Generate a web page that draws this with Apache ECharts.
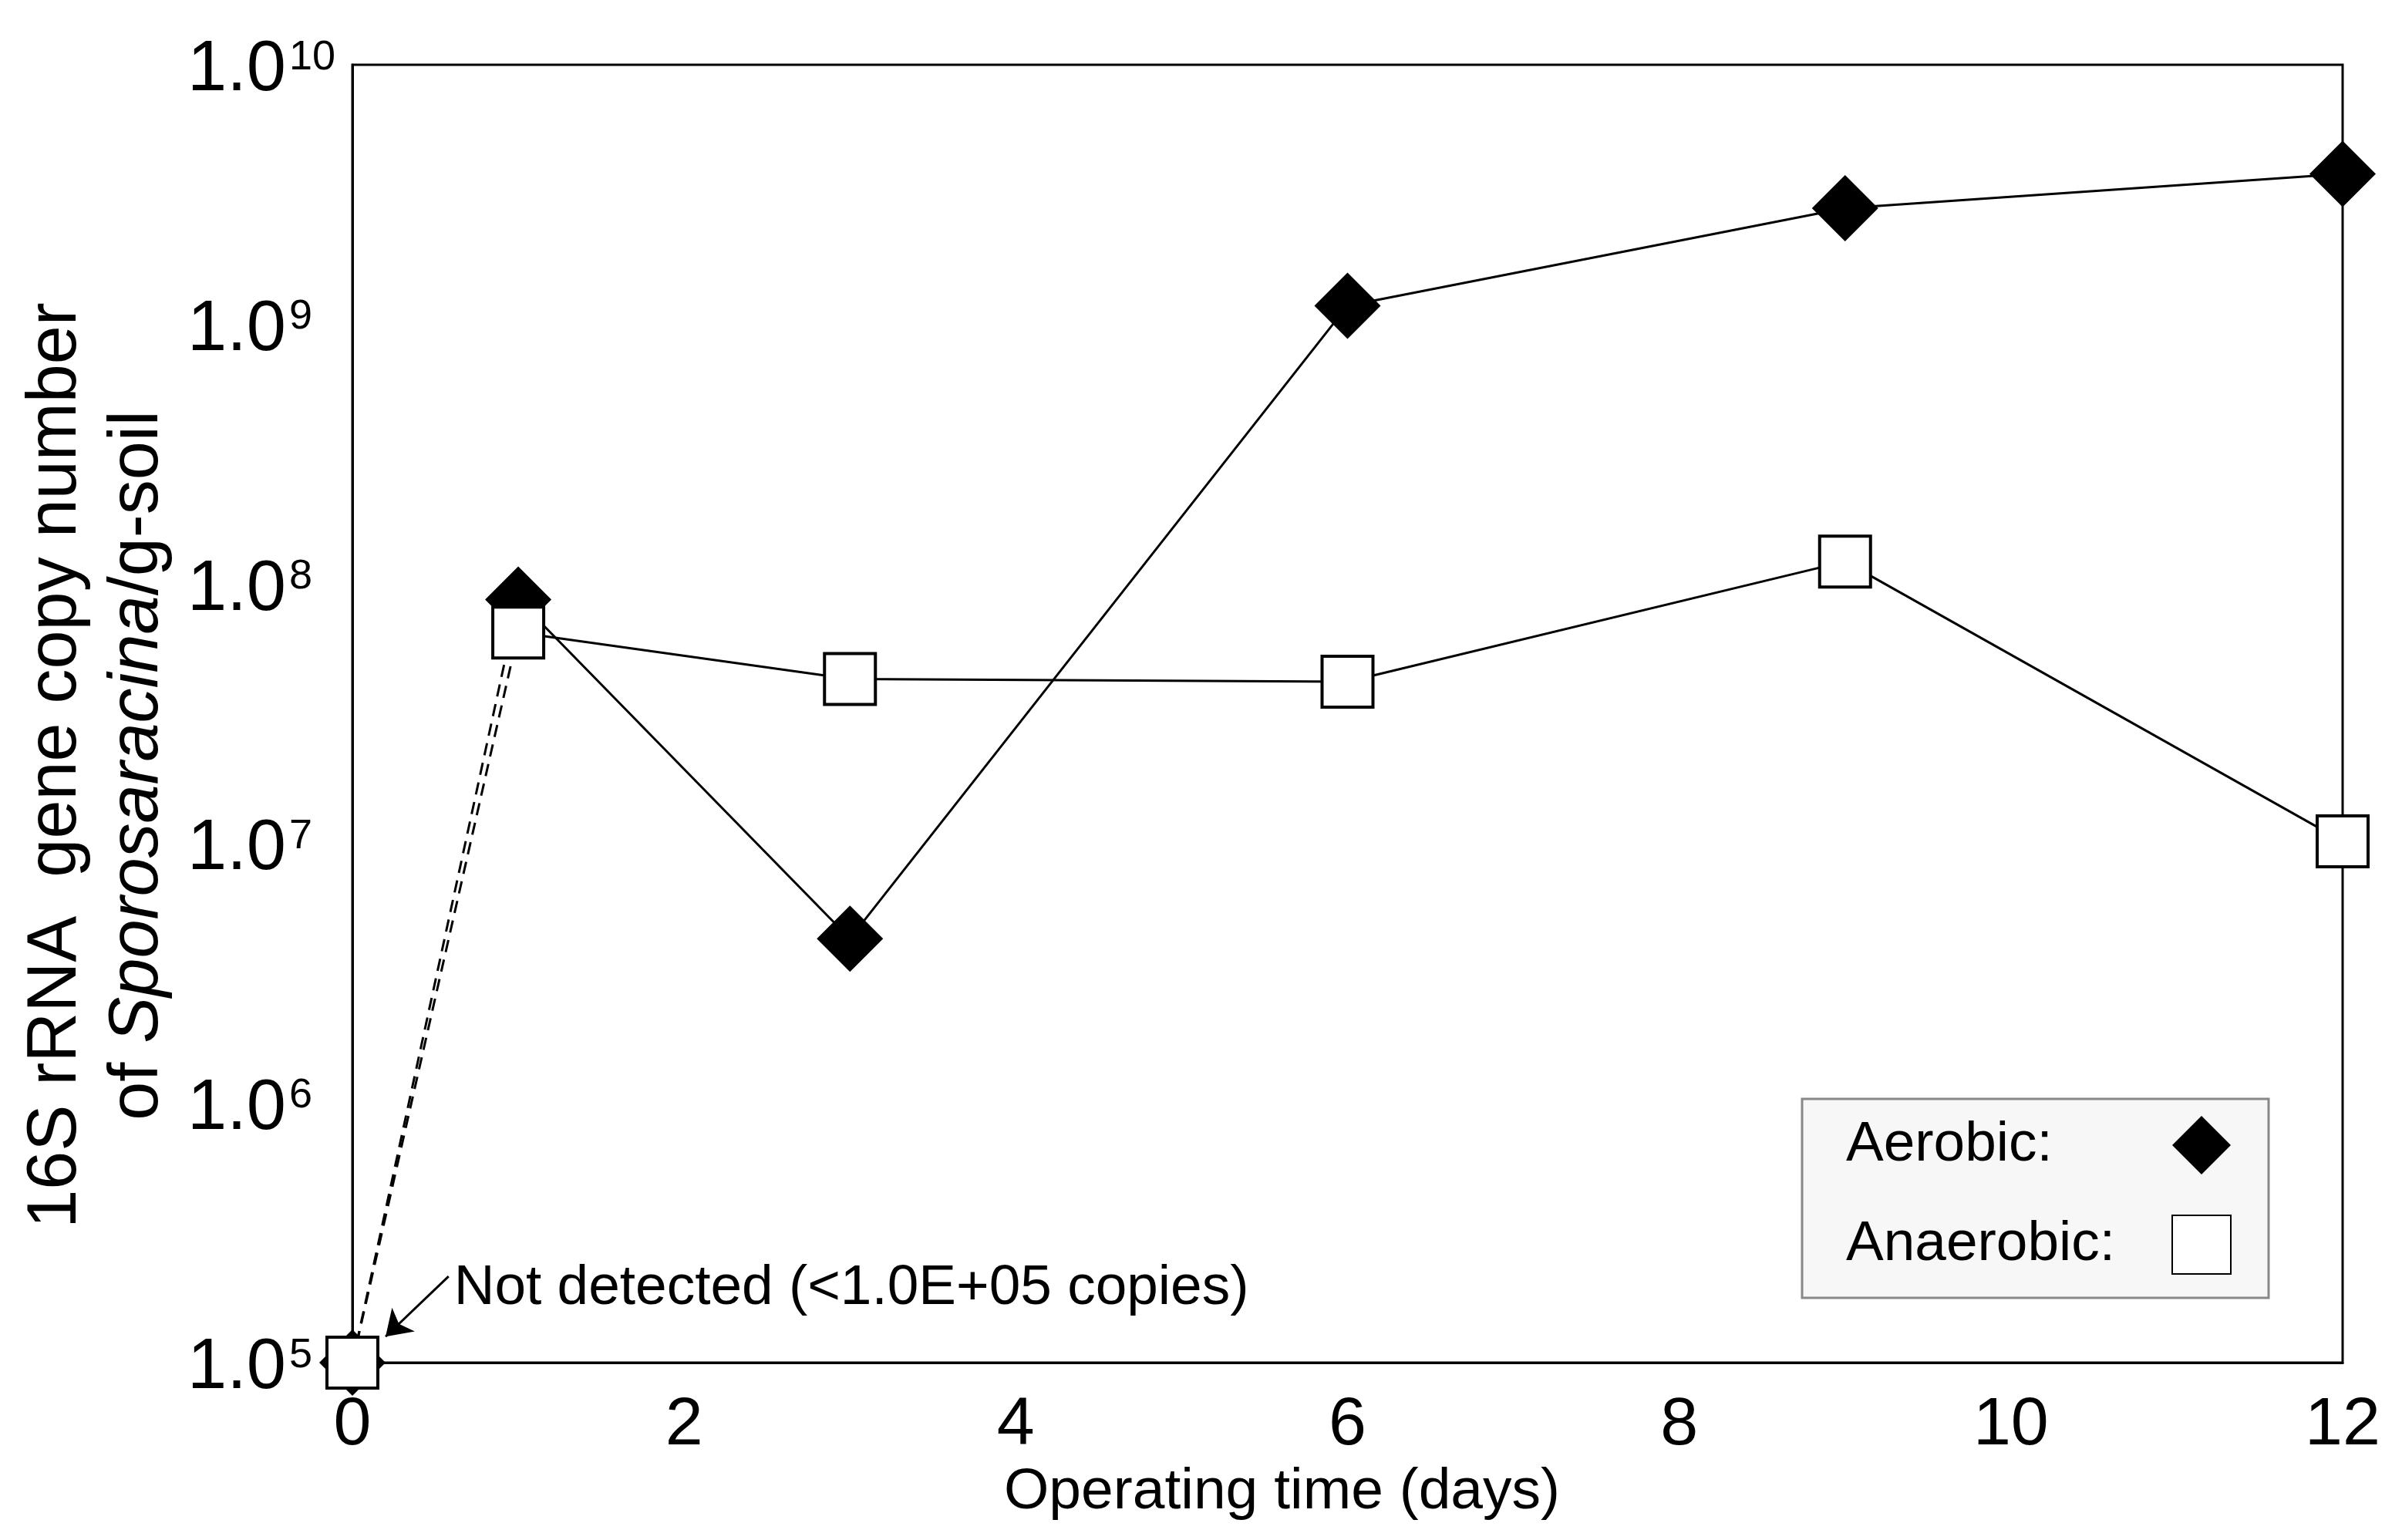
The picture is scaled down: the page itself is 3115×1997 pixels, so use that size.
<!DOCTYPE html>
<html lang="en">
<head>
    <meta charset="UTF-8">
    <title>Sporosaracina 16S rRNA copies</title>
    <script src="https://cdn.jsdelivr.net/npm/echarts@6.0.0/dist/echarts.min.js"></script>
    <style>
        html, body { margin: 0; padding: 0; background: #fff; }
    </style>
</head>
<body>

<div id="main" style="width: 3115px;height:1997px;"></div>
<script type="text/javascript">

    // operating time (days)
    let days = [0, 1, 3, 6, 9, 12];
    // copies / g-soil, day 0 = not detected (plotted at the detection limit)
    let aerobic = [1e5, 8.7e7, 4.3e6, 1.18e9, 2.8e9, 3.8e9];
    let anaerobic = [1e5, 6.5e7, 4.3e7, 4.2e7, 1.22e8, 1.02e7];
    // y tick exponents, shown as 1.0^n
    let yTickExps = [5, 6, 7, 8, 9, 10];
    let xTicks = [0, 2, 4, 6, 8, 10, 12];

    let font = 'Liberation Sans, Arial, sans-serif';

    function pairs(xs, ys) {
        return xs.map((x, i) => [x, ys[i]]);
    }

    let dashStyle = {color: '#000', width: 3, type: [16, 10]};

    option = {
        backgroundColor: '#fff',
        animation: false,
        grid: {
            left: 457,
            right: 77,
            top: 84,
            bottom: 230,
            show: true,
            borderColor: '#000',
            borderWidth: 3,
            containLabel: false
        },
        legend: {
            orient: 'vertical',
            align: 'right',
            left: 2337,
            top: 1425,
            padding: [22, 48, 30, 57],
            itemGap: 52,
            itemWidth: 76,
            itemHeight: 76,
            symbolKeepAspect: true,
            backgroundColor: '#f7f7f7',
            borderColor: '#888',
            borderWidth: 3,
            formatter: function (name) {
                return '{t|' + name + '}';
            },
            textStyle: {
                fontFamily: font,
                fontSize: 73,
                color: '#000',
                rich: {
                    t: {fontFamily: font, fontSize: 73, color: '#000', width: 418, align: 'left'}
                }
            },
            data: [
                {name: 'Aerobic:', icon: 'diamond'},
                {name: 'Anaerobic:', icon: 'rect'}
            ]
        },
        xAxis: {
            type: 'value',
            min: 0,
            max: 12,
            interval: 2,
            name: 'Operating time (days)',
            nameLocation: 'middle',
            nameGap: 124,
            nameTextStyle: {
                fontFamily: font,
                fontSize: 75,
                color: '#000',
                padding: [0, 170, 0, 0]
            },
            axisLine: {lineStyle: {color: '#000', width: 3}},
            axisTick: {show: false},
            splitLine: {show: false},
            axisLabel: {
                fontFamily: font,
                fontSize: 88,
                color: '#000',
                margin: 38,
                formatter: function (v) {
                    return xTicks.indexOf(v) >= 0 ? String(v) : '';
                }
            }
        },
        yAxis: {
            type: 'log',
            logBase: 10,
            min: Math.pow(10, yTickExps[0]),
            max: Math.pow(10, yTickExps[yTickExps.length - 1]),
            interval: 1,
            name: '16S rRNA  gene copy number\nof {i|Sporosaracina}/g-soil',
            nameLocation: 'middle',
            nameRotate: 90,
            nameGap: 188,
            nameTextStyle: {
                fontFamily: font,
                fontSize: 90,
                lineHeight: 106,
                color: '#000',
                padding: [0, 134, 0, 0],
                rich: {
                    i: {fontFamily: font, fontSize: 90, lineHeight: 106, fontStyle: 'italic', color: '#000'}
                }
            },
            axisLine: {show: true, lineStyle: {color: '#000', width: 3}},
            axisTick: {show: false},
            splitLine: {show: false},
            axisLabel: {
                align: 'left',
                margin: 214,
                padding: [16, 0, 0, 0],
                formatter: function (v) {
                    let e = Math.round(Math.log10(v));
                    if (yTickExps.indexOf(e) < 0) return '';
                    return '{b|1.0}{s|' + e + '}';
                },
                rich: {
                    b: {fontFamily: font, fontSize: 92, color: '#000', lineHeight: 96},
                    s: {fontFamily: font, fontSize: 54, color: '#000', verticalAlign: 'top', lineHeight: 60, padding: [4, 0, 0, 4]}
                }
            }
        },
        series: [
            {
                name: 'aerobic-nd',
                type: 'line',
                z: 1,
                silent: true,
                showSymbol: false,
                symbol: 'none',
                lineStyle: dashStyle,
                data: pairs(days.slice(0, 2), aerobic.slice(0, 2)),
                markLine: {
                    silent: true,
                    symbol: ['none', 'arrow'],
                    symbolSize: 32,
                    lineStyle: {color: '#000', width: 3, type: 'solid'},
                    label: {show: false},
                    data: [[
                        {coord: [0.58, 2.15e5]},
                        {coord: [0.2, 1.26e5]}
                    ]]
                },
                markPoint: {
                    silent: true,
                    symbol: 'rect',
                    symbolSize: 1,
                    itemStyle: {color: 'rgba(0,0,0,0)'},
                    label: {
                        show: true,
                        position: 'right',
                        distance: 0,
                        fontFamily: font,
                        fontSize: 73,
                        color: '#000',
                        formatter: 'Not detected (<1.0E+05 copies)'
                    },
                    data: [{coord: [0.61, 1.93e5]}]
                }
            },
            {
                name: 'anaerobic-nd',
                type: 'line',
                z: 1,
                silent: true,
                showSymbol: false,
                symbol: 'none',
                lineStyle: dashStyle,
                data: pairs(days.slice(0, 2), anaerobic.slice(0, 2))
            },
            {
                name: 'Aerobic:',
                type: 'line',
                z: 2,
                clip: false,
                symbol: 'diamond',
                symbolSize: 86,
                itemStyle: {color: '#000', borderColor: '#000', borderWidth: 0},
                lineStyle: {color: '#000', width: 3},
                data: pairs(days.slice(1), aerobic.slice(1))
            },
            {
                name: 'aerobic-day0',
                type: 'scatter',
                z: 2,
                clip: false,
                symbol: 'diamond',
                symbolSize: 86,
                itemStyle: {color: '#000', opacity: 1},
                data: pairs(days.slice(0, 1), aerobic.slice(0, 1))
            },
            {
                name: 'Anaerobic:',
                type: 'line',
                z: 3,
                clip: false,
                symbol: 'rect',
                symbolSize: 66,
                itemStyle: {color: '#fff', borderColor: '#000', borderWidth: 4},
                lineStyle: {color: '#000', width: 3},
                data: pairs(days.slice(1), anaerobic.slice(1))
            },
            {
                name: 'anaerobic-day0',
                type: 'scatter',
                z: 3,
                clip: false,
                symbol: 'rect',
                symbolSize: 66,
                itemStyle: {color: '#fff', borderColor: '#000', borderWidth: 4, opacity: 1},
                data: pairs(days.slice(0, 1), anaerobic.slice(0, 1))
            }
        ]
    };

    let myChart = echarts.init(document.getElementById('main'));
    myChart.setOption(option);
</script>
</body>
</html>
